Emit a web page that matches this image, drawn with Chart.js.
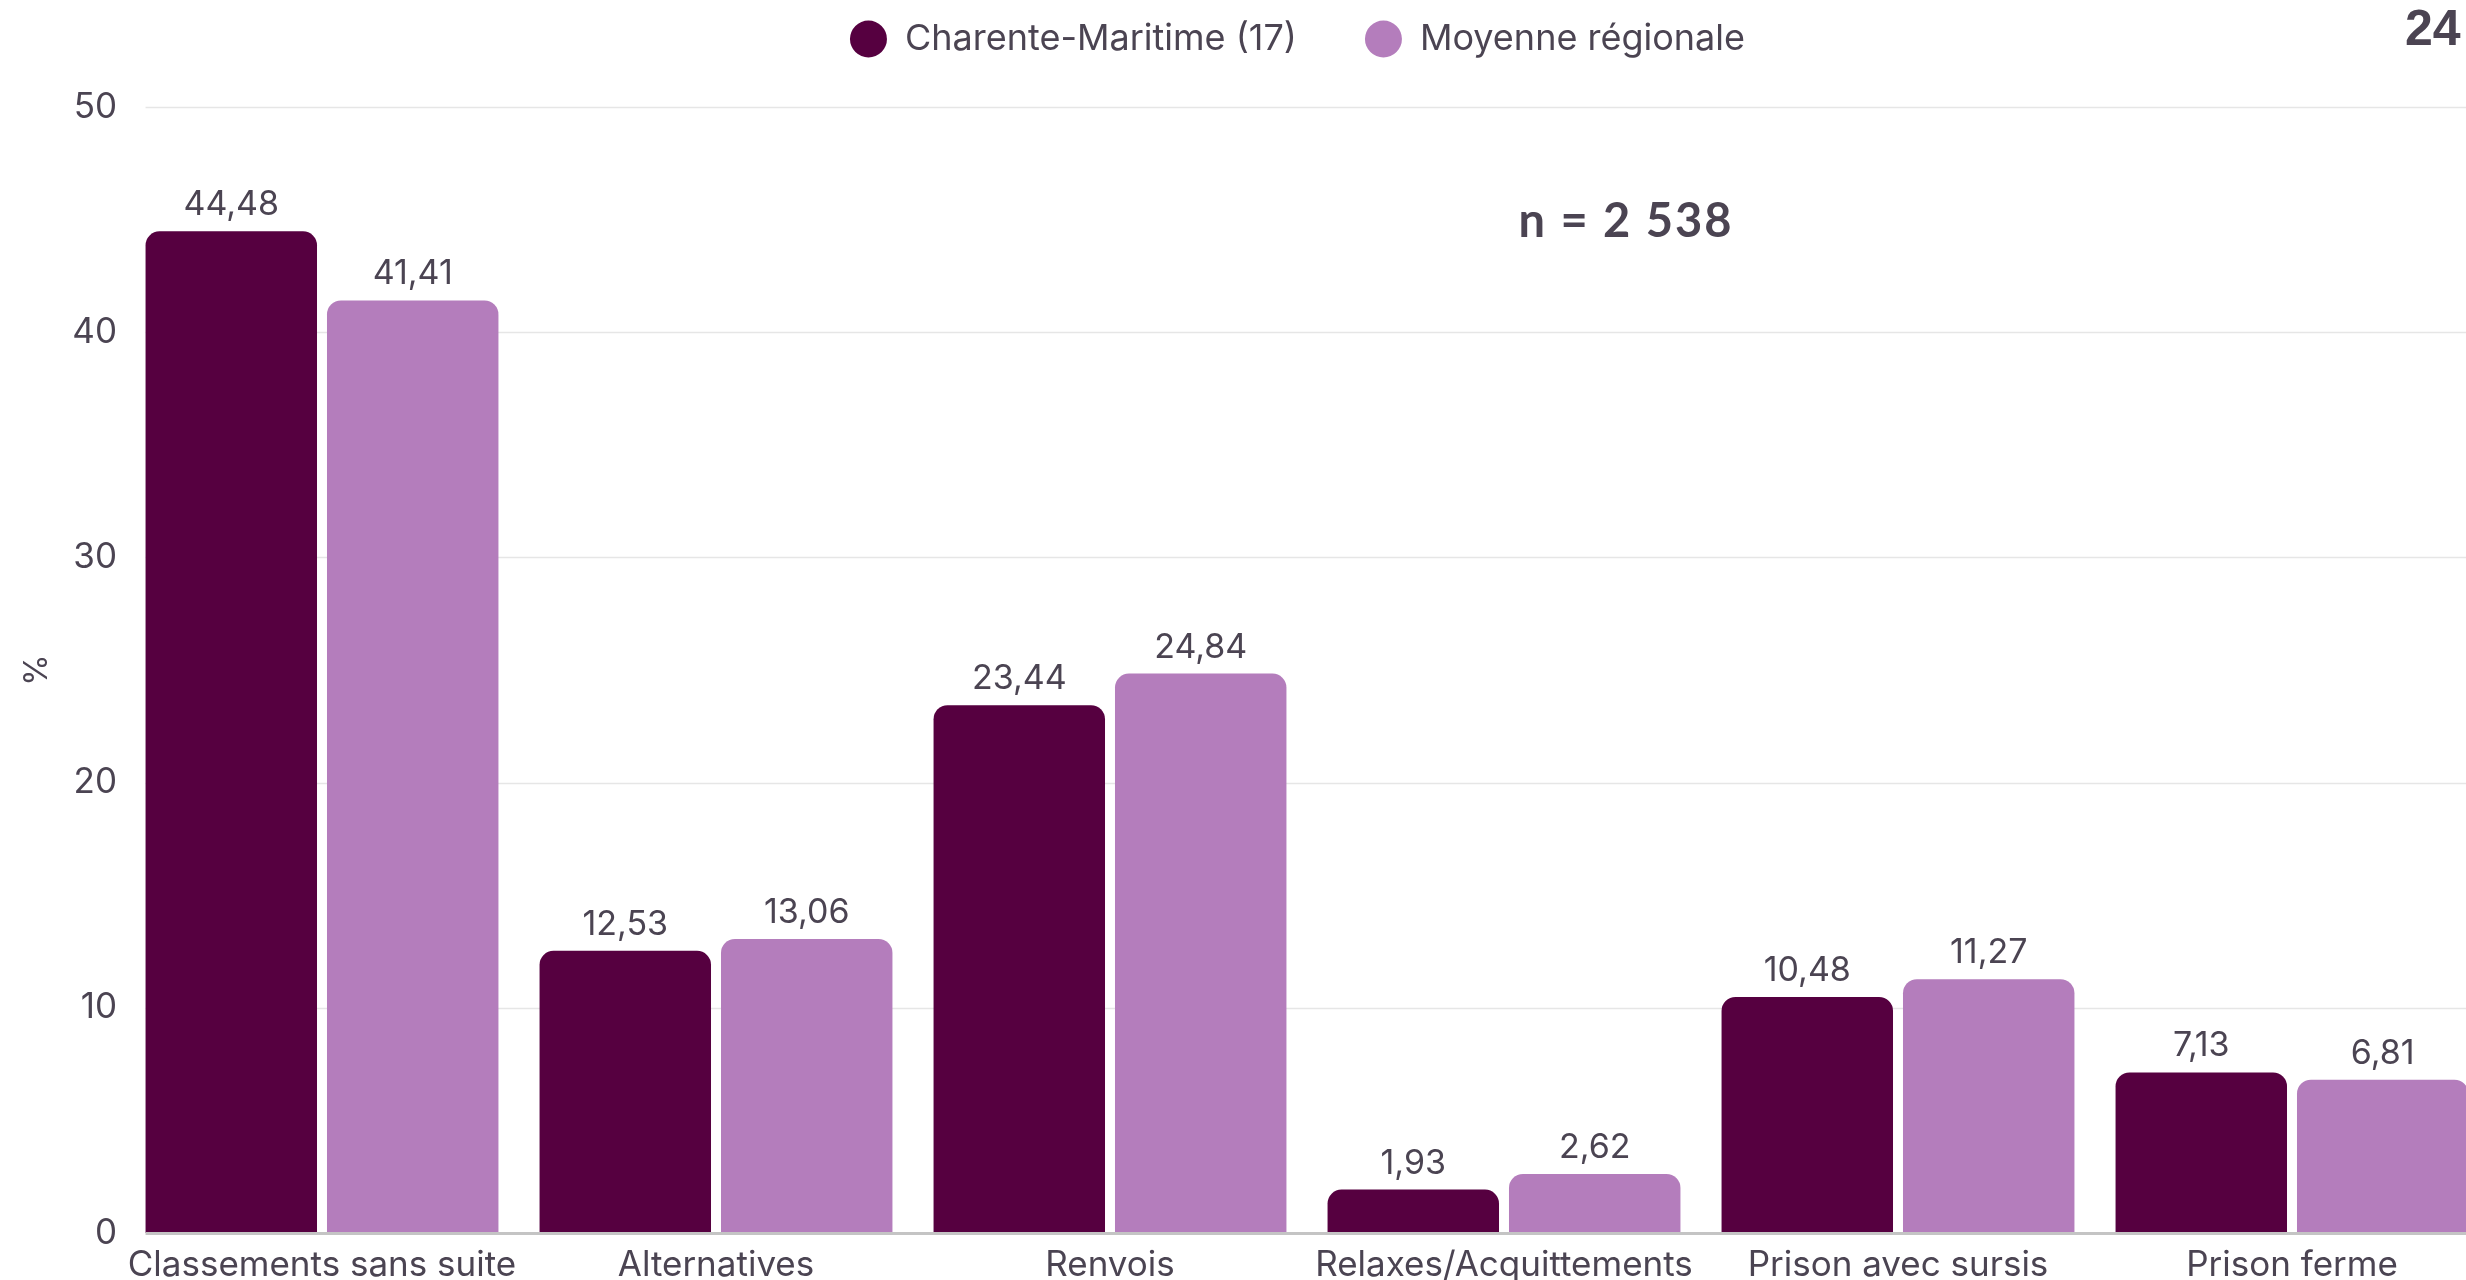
<!DOCTYPE html>
<html><head><meta charset="utf-8">
<script src="https://cdn.jsdelivr.net/npm/chart.js@4.4.0/dist/chart.umd.min.js"></script>
<style>
html,body{margin:0;padding:0;background:#fff;overflow:hidden;width:2466px;height:1280px;}
#wrap{position:absolute;left:0;top:0;width:2489px;height:1300px;}
.note{position:absolute;color:#4b4452;font-weight:700;white-space:nowrap;line-height:1;}
</style></head><body>
<div id="wrap"><canvas id="c" width="2489" height="1300"></canvas></div>
<div class="note" style="left:1626px;top:219px;transform:translate(-50%,-50%);font-family:Lato,sans-serif;font-size:47px;letter-spacing:2px;">n = 2 538</div>
<div class="note" style="left:2405px;top:3px;font-family:'Liberation Sans',Arial,sans-serif;font-size:50px;">24</div>
<script>
const categories = ['Classements sans suite', 'Alternatives', 'Renvois', 'Relaxes/Acquittements', 'Prison avec sursis', 'Prison ferme'];
const seriesNames = ['Charente-Maritime (17)', 'Moyenne régionale'];
const departement = [44.48, 12.53, 23.44, 1.93, 10.48, 7.13];
const regionale = [41.41, 13.06, 24.84, 2.62, 11.27, 6.81];
const yMin = 0, yMax = 50, yStep = 10;

const TEXT = '#4b4452';
const FONT = 'Inter, sans-serif';
const DARK = '#560040';
const PINK = '#b47dbc';
const LEG_PAD = 68;

const legendTweak = {
  id: 'legendTweak',
  beforeInit(chart) {
    const lg = chart.legend;
    const orig = lg.fit;
    lg.fit = function () { orig.call(this); this.height = 107; };
  },
  afterLayout(chart) {
    chart.legend.left += 53;
    chart.legend.right += 53;
    chart.legend.top = 21 - LEG_PAD;
  }
};

const gridPlugin = {
  id: 'gridPlugin',
  beforeDatasetsDraw(chart) {
    const y = chart.scales.y, ca = chart.chartArea, ctx = chart.ctx;
    const b0 = chart.getDatasetMeta(0).data[0];
    const x0 = b0.x - b0.width / 2;
    ctx.save();
    ctx.strokeStyle = '#e6e6e6';
    ctx.lineWidth = 1.5;
    y.ticks.forEach(t => {
      if (t.value === yMin) return;
      const py = Math.round(y.getPixelForValue(t.value)) + 0.5;
      ctx.beginPath(); ctx.moveTo(x0, py); ctx.lineTo(ca.right, py); ctx.stroke();
    });
    ctx.restore();
  },
  afterDatasetsDraw(chart) {
    const y = chart.scales.y, ca = chart.chartArea, ctx = chart.ctx;
    const b0 = chart.getDatasetMeta(0).data[0];
    const x0 = b0.x - b0.width / 2;
    ctx.save();
    ctx.strokeStyle = '#c4c4c4';
    ctx.lineWidth = 3;
    const py = y.getPixelForValue(yMin) + 0.5;
    ctx.beginPath(); ctx.moveTo(x0, py); ctx.lineTo(ca.right, py); ctx.stroke();
    ctx.fillStyle = TEXT;
    ctx.font = '34px ' + FONT;
    ctx.textAlign = 'center';
    ctx.textBaseline = 'alphabetic';
    chart.data.datasets.forEach((ds, i) => {
      chart.getDatasetMeta(i).data.forEach((bar, j) => {
        const txt = ds.data[j].toFixed(2).replace('.', ',');
        ctx.fillText(txt, bar.x, bar.y - 16);
      });
    });
    ctx.restore();
  }
};

new Chart(document.getElementById('c'), {
  type: 'bar',
  data: {
    labels: categories,
    datasets: [
      { label: seriesNames[0], data: departement, backgroundColor: DARK, borderRadius: 14, borderSkipped: 'start' },
      { label: seriesNames[1], data: regionale, backgroundColor: PINK, borderRadius: 14, borderSkipped: 'start' }
    ]
  },
  options: {
    responsive: false,
    animation: false,
    devicePixelRatio: 1,
    layout: { padding: 0 },
    datasets: { bar: { categoryPercentage: 0.921, barPercentage: 0.945 } },
    plugins: {
      legend: {
        position: 'top',
        align: 'center',
        labels: {
          usePointStyle: true,
          pointStyle: 'circle',
          boxHeight: 26,
          pointStyleWidth: 37,
          padding: LEG_PAD,
          color: TEXT,
          font: { family: FONT, size: 36 }
        }
      },
      tooltip: { enabled: false }
    },
    scales: {
      x: {
        offset: true,
        grid: { display: false, drawTicks: false },
        border: { display: false },
        ticks: { color: TEXT, font: { family: FONT, size: 35 }, padding: 11, maxRotation: 0, autoSkip: false },
        afterFit(s) { s.height = 67; }
      },
      y: {
        min: yMin, max: yMax,
        grid: { display: false, drawTicks: false },
        border: { display: false },
        ticks: { stepSize: yStep, color: TEXT, font: { family: FONT, size: 35 }, padding: 8 },
        title: { display: true, text: '%', color: TEXT, font: { family: FONT, size: 32 }, padding: { top: 18, bottom: 0 } },
        afterFit(s) { s.width = 125; }
      }
    }
  },
  plugins: [legendTweak, gridPlugin]
});
</script>
</body></html>
